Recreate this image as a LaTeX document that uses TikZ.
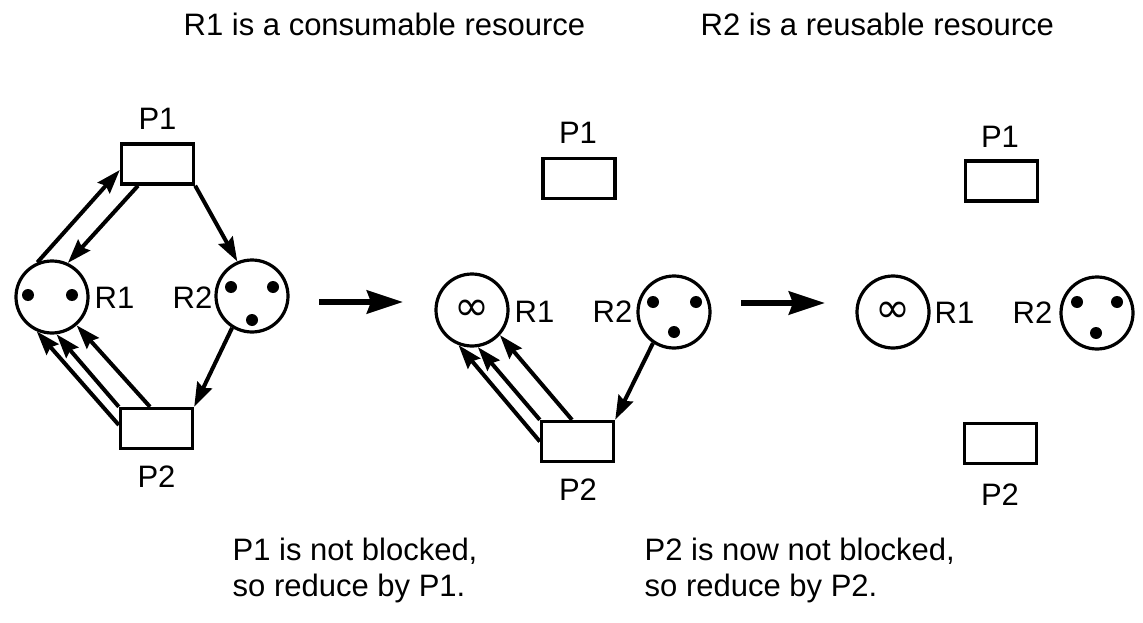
\documentclass[tikz,border=0pt]{standalone}
\usepackage{fontspec}
\setmainfont{Liberation Sans}
\newfontfamily\djv{DejaVu Sans}
\usetikzlibrary{arrows.meta}
\begin{document}
\begin{tikzpicture}[x=1pt,y=-1pt,
  proc/.style={draw,line width=3.4pt,rectangle,minimum width=72pt,minimum height=40pt,inner sep=0pt},
  res/.style={draw,line width=3.2pt,circle,minimum size=72pt,inner sep=0pt},
  tok/.style={fill,circle,minimum size=12pt,inner sep=0pt},
  lbl/.style={font=\fontsize{31}{31}\selectfont,inner sep=0pt},
  inf/.style={font=\djv\fontsize{42}{42}\selectfont,inner sep=0pt},
  txt/.style={font=\fontsize{31}{31}\selectfont,inner sep=0pt,anchor=base west},
  flow/.style={line width=4pt,-{Stealth[length=24pt,width=16pt,inset=3pt]}},
  bigarrow/.style={line width=6pt,-{Stealth[length=36pt,width=23pt,inset=4pt]}},
]
\fill[white] (0,0) rectangle (1143,623);
\useasboundingbox (0,0) rectangle (1143,623);

% titles
\node[txt] (T1) at (183.5,36) {R1 is a consumable resource};
\node[txt] (T2) at (700.5,36) {R2 is a reusable resource};

% ---------- left state ----------
\node[proc] (P1a) at (157.5,164) {};
\node[lbl,anchor=base] (P1aL) at (157.5,130) {P1};
\node[res] (R1a) at (52,297) {};
\node[tok] (R1a1) at (28,295) {};
\node[tok] (R1a2) at (72,295) {};
\node[lbl,anchor=base west] (R1aL) at (94.5,308) {R1};
\node[res] (R2a) at (252,296) {};
\node[tok] (R2a1) at (231,287) {};
\node[tok] (R2a2) at (273,287) {};
\node[tok] (R2a3) at (252,320) {};
\node[lbl,anchor=base west] (R2aL) at (172.5,308) {R2};
\node[proc] (P2a) at (156.5,428.5) {};
\node[lbl,anchor=base] (P2aL) at (156.5,487) {P2};

\draw[flow] (R1a.113) -- ([yshift=-6pt]P1a.west);
\draw[flow] ([xshift=-19.5pt]P1a.south) -- (R1a.65);
\draw[flow] (P1a.south east) -- (R2a.113);
\draw[flow] (R2a.238) -- (P2a.north east);
\draw[flow] ([yshift=3.5pt]P2a.west) -- (R1a.246);
\draw[flow] (P2a.north west) -- (R1a.277);
\draw[flow] ([xshift=-6.5pt]P2a.north) -- (R1a.311);

% ---------- middle state ----------
\node[proc] (P1b) at (579,178.5) {};
\node[lbl,anchor=base] (P1bL) at (578,143) {P1};
\node[res] (R1b) at (472,310) {};
\node[inf] (I1b) at (472,310) {∞};
\node[lbl,anchor=base west] (R1bL) at (514.5,322) {R1};
\node[res] (R2b) at (674,312) {};
\node[tok] (R2b1) at (653,302) {};
\node[tok] (R2b2) at (696,302) {};
\node[tok] (R2b3) at (674,332) {};
\node[lbl,anchor=base west] (R2bL) at (592.5,322) {R2};
\node[proc] (P2b) at (577.5,441.5) {};
\node[lbl,anchor=base] (P2bL) at (578,500) {P2};

\draw[flow] (R2b.236) -- (P2b.north east);
\draw[flow] (P2b.west) -- (R1b.249);
\draw[flow] (P2b.north west) -- (R1b.279);
\draw[flow] ([xshift=-5.5pt]P2b.north) -- (R1b.318);

% ---------- right state ----------
\node[proc] (P1c) at (1001.5,181) {};
\node[lbl,anchor=base] (P1cL) at (1000,148) {P1};
\node[res] (R1c) at (893,312) {};
\node[inf] (I1c) at (893,312) {∞};
\node[lbl,anchor=base west] (R1cL) at (934.5,323) {R1};
\node[res] (R2c) at (1097,313) {};
\node[tok] (R2c1) at (1077,302) {};
\node[tok] (R2c2) at (1117,302) {};
\node[tok] (R2c3) at (1096,333) {};
\node[lbl,anchor=base west] (R2cL) at (1012.5,323) {R2};
\node[proc] (P2c) at (1000.5,443.5) {};
\node[lbl,anchor=base] (P2cL) at (1000,505) {P2};

% ---------- transitions ----------
\coordinate (A1s) at (319,302);
\coordinate (A1e) at (403,302);
\coordinate (A2s) at (741,303);
\coordinate (A2e) at (825,303);
\draw[bigarrow] (A1s) -- (A1e);
\draw[bigarrow] (A2s) -- (A2e);

% captions
\node[txt] (C1a) at (232.5,560) {P1 is not blocked,};
\node[txt] (C1b) at (232.5,596) {so reduce by P1.};
\node[txt] (C2a) at (644.5,560) {P2 is now not blocked,};
\node[txt] (C2b) at (644.5,596) {so reduce by P2.};
\end{tikzpicture}
\end{document}
